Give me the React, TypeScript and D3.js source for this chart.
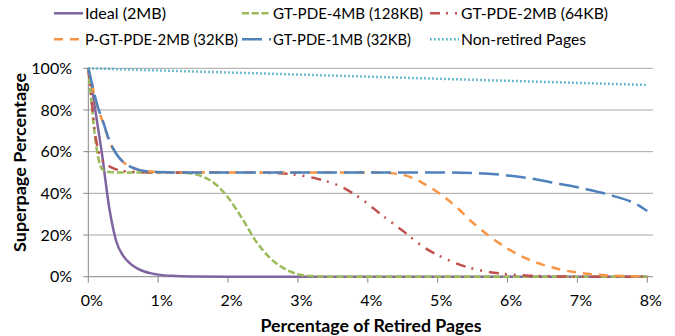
import React from "react";
import * as d3 from "d3";

const xTicks = [0, 1, 2, 3, 4, 5, 6, 7, 8];
const yTicks = [0, 20, 40, 60, 80, 100];

const idealX = [0, 0.05, 0.1, 0.15, 0.2, 0.25, 0.3, 0.35, 0.4, 0.5, 0.6, 0.7, 0.8, 0.9, 1.0, 1.2, 1.5, 2, 2.5, 3, 4, 5, 6, 7, 8];
const idealY = [100, 91, 80, 69, 58, 45, 33, 24, 17, 10, 6.3, 4, 2.5, 1.6, 1.0, 0.4, 0.1, 0, 0, 0, 0, 0, 0, 0, 0];

const gt4X = [0, 0.05, 0.1, 0.15, 0.2, 0.3, 0.5, 1, 1.4, 1.6, 1.8, 2.0, 2.2, 2.4, 2.6, 2.8, 3.0, 3.2, 3.5, 4, 5, 6, 7, 8];
const gt4Y = [100, 82, 66, 56, 51.5, 50.2, 50, 50, 49.8, 48.5, 45, 38, 28, 17, 9, 4, 1.2, 0.3, 0, 0, 0, 0, 0, 0];

const gt2X = [0, 0.05, 0.1, 0.15, 0.2, 0.3, 0.4, 0.6, 0.8, 1, 2, 2.6, 3.0, 3.3, 3.6, 3.9, 4.2, 4.5, 4.8, 5.1, 5.4, 5.7, 6.0, 6.3, 6.6, 7, 8];
const gt2Y = [100, 84, 68, 60, 56, 53, 51.5, 50.4, 50.1, 50, 50, 49.8, 48.8, 46.8, 43.5, 37.5, 29.6, 22, 14.2, 8.8, 4.8, 2.5, 1.2, 0.5, 0.2, 0, 0];

const pgt2X = [0, 0.05, 0.1, 0.15, 0.2, 0.3, 0.4, 0.5, 0.6, 0.7, 0.8, 1.0, 1.2, 2, 3, 4, 4.3, 4.55, 4.75, 5.0, 5.25, 5.5, 5.75, 6.0, 6.25, 6.5, 6.75, 7.0, 7.25, 7.5, 7.75, 8];
const pgt2Y = [100, 93, 85, 79.5, 75, 65, 59, 55, 53, 51.5, 50.8, 50.2, 50, 50, 50, 50, 49.7, 48.5, 45.6, 40.5, 34, 26, 19.2, 13.5, 9, 5.8, 3.5, 2, 1.1, 0.5, 0.2, 0];

const gt1X = [0, 0.05, 0.1, 0.15, 0.2, 0.3, 0.4, 0.5, 0.6, 0.7, 0.8, 1.0, 1.2, 2, 3, 4, 5, 5.5, 6, 6.3, 6.7, 7.1, 7.5, 7.85, 8];
const gt1Y = [100, 93, 86, 80, 75.5, 65.5, 59, 55, 52.8, 51.5, 50.7, 50.2, 50, 50, 50, 50, 50, 49.8, 48.6, 47.3, 44.8, 42.2, 38.9, 34.7, 31.5];

const nonRetX = [0, 1, 2, 3, 4, 5, 6, 7, 8];
const nonRetY = [100, 99, 98, 97, 96, 95, 94, 93, 92];

const seriesNames = [
  "Ideal (2MB)",
  "GT-PDE-4MB (128KB)",
  "GT-PDE-2MB (64KB)",
  "P-GT-PDE-2MB (32KB)",
  "GT-PDE-1MB (32KB)",
  "Non-retired Pages",
];
const seriesX = [idealX, gt4X, gt2X, pgt2X, gt1X, nonRetX];
const seriesY = [idealY, gt4Y, gt2Y, pgt2Y, gt1Y, nonRetY];
const seriesColors = ["#8064A2", "#9BBB59", "#C0504D", "#F79646", "#4F81BD", "#4BACC6"];
const seriesDash = ["", "7,2.8", "10,6,2,7,2,7", "9,7", "20,7", "1.6,2.4"];
const legendTextWidths = [81, 150, 147, 153, 138, 125];

const FONT = "Lato, 'Open Sans', sans-serif";

export default function App() {
  const W = 675;
  const H = 336;
  const x = d3.scaleLinear().domain([0, 8]).range([88.3, 647.3]);
  const y = d3.scaleLinear().domain([0, 100]).range([276.7, 68.3]);
  const gridRight = 653;

  const line = d3
    .line<[number, number]>()
    .x((d) => x(d[0]))
    .y((d) => y(d[1]))
    .curve(d3.curveMonotoneX);

  const legendPos = [
    [54, 13.3],
    [242, 13.3],
    [430, 13.3],
    [54, 39.3],
    [242, 39.3],
    [430, 39.3],
  ];

  return (
    <svg
      width={W}
      height={H}
      style={{ position: "absolute", left: 0, top: 0, background: "#fff" }}
      fontFamily={FONT}
    >
      <rect width={W} height={H} fill="#fff" />
      {yTicks.map((t) => (
        <line key={"g" + t} x1={x(0)} x2={gridRight} y1={y(t)} y2={y(t)} stroke={t === 0 ? "#868686" : "#a6a6a6"} strokeWidth={1} />
      ))}
      <line x1={x(0)} x2={x(0)} y1={y(100)} y2={y(0)} stroke="#868686" strokeWidth={1} />
      {yTicks.map((t) => (
        <line key={"yt" + t} x1={x(0) - 5} x2={x(0)} y1={y(t)} y2={y(t)} stroke="#868686" />
      ))}
      {yTicks.map((t) => (
        <text key={"yl" + t} x={72} y={y(t)} dy="0.35em" textAnchor="end" fontSize={16} fill="#000">
          {t + "%"}
        </text>
      ))}
      {xTicks.map((t) => (
        <line key={"xt" + t} x1={x(t)} x2={x(t)} y1={y(0)} y2={y(0) + 6} stroke="#868686" />
      ))}
      {xTicks.map((t) => (
        <text key={"xl" + t} x={x(t) + 3.5} y={300} dy="0.35em" textAnchor="middle" fontSize={16} fill="#000">
          {t + "%"}
        </text>
      ))}
      {seriesNames.map((n, i) => (
        <path
          key={"s" + i}
          d={line(seriesX[i].map((v, j) => [v, seriesY[i][j]] as [number, number])) || ""}
          fill="none"
          stroke={seriesColors[i]}
          strokeWidth={2.5}
          strokeDasharray={seriesDash[i] || undefined}
        />
      ))}
      {seriesNames.map((n, i) => (
        <g key={"l" + i}>
          <line
            x1={legendPos[i][0]}
            x2={legendPos[i][0] + 29}
            y1={legendPos[i][1]}
            y2={legendPos[i][1]}
            stroke={seriesColors[i]}
            strokeWidth={2.5}
            strokeDasharray={seriesDash[i] || undefined}
          />
          <text
            x={legendPos[i][0] + 31}
            y={legendPos[i][1]}
            dy="0.35em"
            fontSize={16}
            fill="#000"
            textLength={legendTextWidths[i]}
            lengthAdjust="spacingAndGlyphs"
          >
            {n}
          </text>
        </g>
      ))}
      <text
        x={371}
        y={326}
        dy="0.35em"
        textAnchor="middle"
        fontSize={16.5}
        fontWeight="bold"
        fill="#000"
        textLength={221}
        lengthAdjust="spacingAndGlyphs"
      >
        Percentage of Retired Pages
      </text>
      <text
        transform={`translate(20,${162.5}) rotate(-90)`}
        dy="0.35em"
        textAnchor="middle"
        fontSize={17}
        fontWeight="bold"
        fill="#000"
        textLength={179}
        lengthAdjust="spacingAndGlyphs"
      >
        Superpage Percentage
      </text>
    </svg>
  );
}
